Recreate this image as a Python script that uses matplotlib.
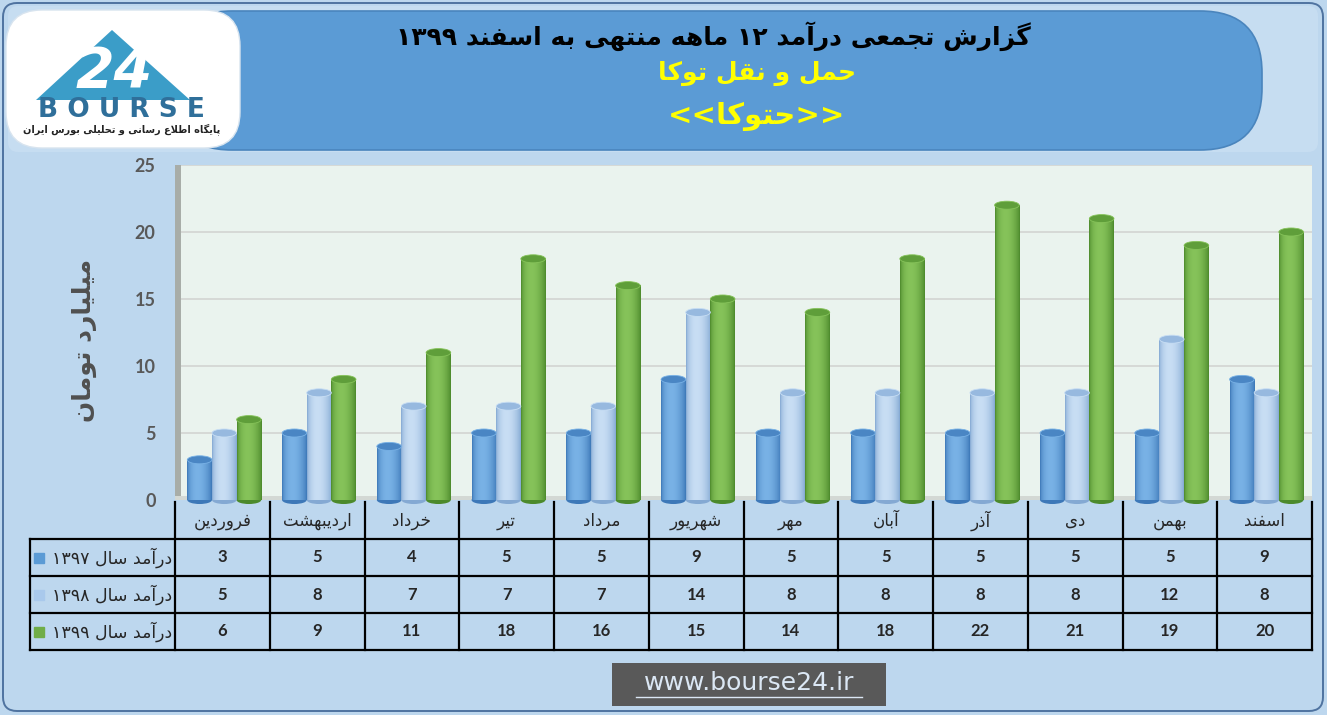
import re
import numpy as np
import matplotlib
matplotlib.use("Agg")
import matplotlib.pyplot as plt
from matplotlib.patches import FancyBboxPatch, Rectangle, Ellipse, Polygon
from matplotlib.colors import to_rgb

plt.rcParams['font.family'] = ['Lato', 'DejaVu Sans']

# ---- data ----
months = ['فروردین', 'اردیبهشت', 'خرداد', 'تیر', 'مرداد', 'شهریور',
          'مهر', 'آبان', 'آذر', 'دی', 'بهمن', 'اسفند']
rev_1397 = [3, 5, 4, 5, 5, 9, 5, 5, 5, 5, 5, 9]
rev_1398 = [5, 8, 7, 7, 7, 14, 8, 8, 8, 8, 12, 8]
rev_1399 = [6, 9, 11, 18, 16, 15, 14, 18, 22, 21, 19, 20]
series_names = ['درآمد سال ۱۳۹۷', 'درآمد سال ۱۳۹۸', 'درآمد سال ۱۳۹۹']
y_ticks = [0, 5, 10, 15, 20, 25]

title_1 = 'گزارش تجمعی درآمد ۱۲ ماهه منتهی به اسفند ۱۳۹۹'
title_2 = 'حمل و نقل توکا'
title_3 = 'حتوکا'
y_label = 'میلیارد تومان'
logo_caption = 'پایگاه اطلاع رسانی و تحلیلی بورس ایران'
site = 'www.bourse24.ir'

# ---- minimal persian shaping (no reshaper lib available) ----
DUAL = {'ب': 0xFE8F, 'ت': 0xFE95, 'ث': 0xFE99, 'ج': 0xFE9D, 'ح': 0xFEA1, 'خ': 0xFEA5,
        'س': 0xFEB1, 'ش': 0xFEB5, 'ص': 0xFEB9, 'ض': 0xFEBD, 'ط': 0xFEC1, 'ظ': 0xFEC5,
        'ع': 0xFEC9, 'غ': 0xFECD, 'ف': 0xFED1, 'ق': 0xFED5, 'ل': 0xFEDD, 'م': 0xFEE1,
        'ن': 0xFEE5, 'ه': 0xFEE9, 'ی': 0xFBFC, 'ک': 0xFB8E, 'گ': 0xFB92, 'پ': 0xFB56,
        'چ': 0xFB7A}
RIGHT = {'ا': 0xFE8D, 'آ': 0xFE81, 'د': 0xFEA9, 'ذ': 0xFEAB, 'ر': 0xFEAD, 'ز': 0xFEAF,
         'و': 0xFEED, 'ژ': 0xFB8A}
DIGITS = '0123456789۰۱۲۳۴۵۶۷۸۹'


def fa(text):
    out = []
    i, n = 0, len(text)
    while i < n:
        c = text[i]
        joins_prev = i > 0 and text[i - 1] in DUAL
        if c == 'ل' and i + 1 < n and text[i + 1] in 'اآ':
            base = 0xFEFB if text[i + 1] == 'ا' else 0xFEF5
            out.append(chr(base + (1 if joins_prev else 0)))
            i += 2
            continue
        if c in DUAL:
            nxt = text[i + 1] if i + 1 < n else ''
            joins_next = nxt in DUAL or nxt in RIGHT
            out.append(chr(DUAL[c] + (1 if joins_prev else 0) + (2 if joins_next else 0)))
        elif c in RIGHT:
            out.append(chr(RIGHT[c] + (1 if joins_prev else 0)))
        else:
            out.append(c)
        i += 1
    s = ''.join(out)
    runs = re.findall(r'[0-9۰-۹]+|[^0-9۰-۹]+', s)
    return ''.join(r if r[0] in DIGITS else r[::-1] for r in runs[::-1])


W, H = 1327, 715
fig = plt.figure(figsize=(W / 100, H / 100), dpi=100)
fig.patch.set_facecolor('#bdd7ee')

# background / decoration axes in pixel coords
bg = fig.add_axes([0, 0, 1, 1])
bg.set_xlim(0, W)
bg.set_ylim(H, 0)
bg.axis('off')

bg.add_patch(FancyBboxPatch((3, 3), W - 7, H - 7, boxstyle='round,pad=0,rounding_size=14',
                            fc='#bdd7ee', ec='#4f73a0', lw=1.4))
bg.add_patch(FancyBboxPatch((8, 6), W - 17, 146, boxstyle='round,pad=0,rounding_size=10',
                            fc='#c6ddf1', ec='none'))
bg.add_patch(FancyBboxPatch((170, 11), 1092, 139, boxstyle='round,pad=0,rounding_size=62',
                            fc='#5b9bd5', ec='#4a85bd', lw=1.2))

# logo
bg.add_patch(FancyBboxPatch((6, 10), 234, 138, boxstyle='round,pad=0,rounding_size=36',
                            fc='white', ec='#d8e4ef', lw=1))
bg.add_patch(Polygon([(112, 30), (36, 100), (190, 100)], closed=True, fc='#3b9dc8', ec='none'))
bg.text(114, 72, '24', color='white', fontsize=40, fontweight='bold', style='italic',
        ha='center', va='center', family='DejaVu Sans')
bg.text(121, 110, 'B O U R S E', color='#2f6f9a', fontsize=19, fontweight='bold',
        ha='center', va='center', family='DejaVu Sans')
bg.text(122, 129, fa(logo_caption), color='#222222', fontsize=7, fontweight='bold',
        ha='center', va='center', family='DejaVu Sans')

# titles
bg.text(713, 36, fa(title_1), color='black', fontsize=18, fontweight='bold',
        ha='center', va='center', family='DejaVu Sans')
bg.text(757, 73, fa(title_2), color='#ffff00', fontsize=18, fontweight='bold',
        ha='center', va='center', family='DejaVu Sans')
bg.text(757, 116, '<<' + fa(title_3) + '>>', color='#ffff00', fontsize=21, fontweight='bold',
        ha='center', va='center', family='DejaVu Sans')

# footer
bg.add_patch(Rectangle((612, 663), 274, 43, fc='#595959', ec='none'))
bg.text(749, 683, site, color='#dbe7f4', fontsize=18, ha='center', va='center',
        family='DejaVu Sans')
bg.plot([636, 862], [697, 697], color='#dbe7f4', lw=1)

# y label
bg.text(84, 340, fa(y_label), rotation=90, color='#505050', fontsize=18, fontweight='bold',
        ha='center', va='center', family='DejaVu Sans')

# ---- main chart ----
ax = fig.add_axes([175 / W, 1 - 500 / H, (1312 - 175) / W, (500 - 165) / H])
ax.set_facecolor('#eaf3ee')
for s in ax.spines.values():
    s.set_visible(False)

series = [rev_1397, rev_1398, rev_1399]
body = [('#3d78b8', '#79b2e6'), ('#84a9d3', '#c8def4'), ('#4c8a2c', '#86c35a')]
tops = ['#4a86c4', '#97b9df', '#5f9e3a']
width = 0.26
offsets = [-0.24, 0.02, 0.28]
x = np.arange(len(months))

t = np.linspace(0, 1, 40)
shade = np.clip(np.sin(np.pi * t ** 0.8) ** 0.7, 0, 1)

for j, vals in enumerate(series):
    bars = ax.bar(x + offsets[j], vals, width=width, color=body[j][0], zorder=2)
    c0, c1 = np.array(to_rgb(body[j][0])), np.array(to_rgb(body[j][1]))
    img = (c0[None, :] + (c1 - c0)[None, :] * shade[:, None])[None, :, :]
    for r in bars:
        x0, w, h = r.get_x(), r.get_width(), r.get_height()
        ax.imshow(img, extent=(x0, x0 + w, 0, h), aspect='auto', interpolation='bilinear', zorder=3)
        ax.add_patch(Ellipse((x0 + w / 2, 0), w, 0.6, fc=body[j][0], ec='none', zorder=2,
                             clip_on=False))
        ax.add_patch(Ellipse((x0 + w / 2, h), w, 0.6, fc=tops[j], ec=body[j][1], lw=0.6,
                             zorder=4))

ax.set_xlim(-0.5, 11.5)
ax.set_ylim(0, 25)
ax.set_yticks(y_ticks)
ax.set_yticklabels([str(v) for v in y_ticks], fontsize=13, fontweight='bold', color='#595959')
ax.tick_params(axis='y', length=0, pad=14)
ax.set_xticks([])
ax.yaxis.grid(True, color='#d6d9d6', lw=1.4)
ax.set_axisbelow(True)
# side wall and floor of the 3d look
ax.add_patch(Rectangle((0, 0), 0.005, 1, transform=ax.transAxes, fc='#a8ada8', ec='none',
                       zorder=1, clip_on=False))
ax.add_patch(Rectangle((0, 0), 1, 0.012, transform=ax.transAxes, fc='#d3d8d4', ec='none',
                       zorder=1))

# ---- data table ----
tab = fig.add_axes([175 / W, 1 - 650 / H, (1312 - 175) / W, (650 - 502) / H])
tab.set_xlim(-0.5, 11.5)
tab.set_ylim(4, 0)
tab.axis('off')
x_left = -0.5 - (175 - 30) / 94.75

for k in range(13):
    tab.plot([k - 0.5, k - 0.5], [0, 4], color='black', lw=1.6, clip_on=False)
tab.plot([x_left, x_left], [1, 4], color='black', lw=1.6, clip_on=False)
for r in range(1, 5):
    tab.plot([x_left, 11.5], [r, r], color='black', lw=1.6, clip_on=False)

for i, m in enumerate(months):
    tab.text(i, 0.5, fa(m), ha='center', va='center', fontsize=12, color='#262626',
             family='DejaVu Sans')
legend_colors = ['#5b9bd5', '#a9c9ec', '#70ad47']
for j, vals in enumerate(series):
    for i, v in enumerate(vals):
        tab.text(i, j + 1.5, str(v), ha='center', va='center', fontsize=12,
                 fontweight='bold', color='#262626')
    tab.text(-0.5 - 3 / 94.75, j + 1.5, fa(series_names[j]), ha='right', va='center',
             fontsize=12.5, color='#262626', family='DejaVu Sans')
    tab.plot([-0.5 - (175 - 39) / 94.75], [j + 1.5], marker='s', ms=7, color=legend_colors[j],
             clip_on=False)

fig.savefig('out.png', dpi=100, facecolor=fig.get_facecolor())
